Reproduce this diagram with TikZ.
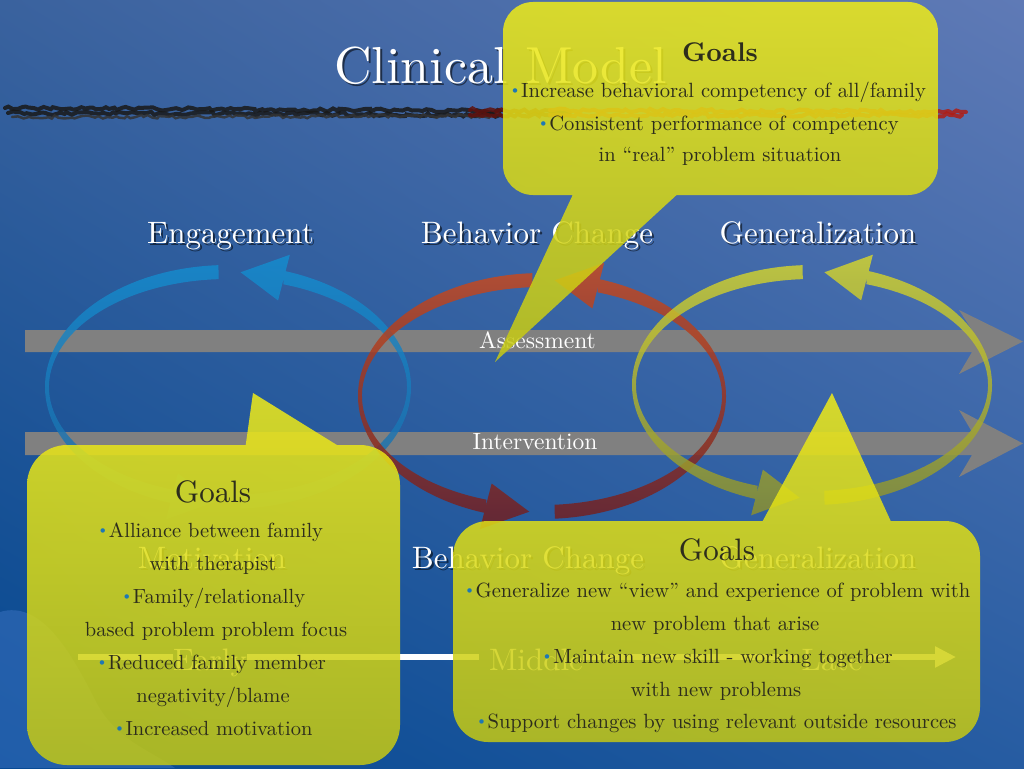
\documentclass[tikz,border=0pt]{standalone}
\usepackage{fontspec}
\setmainfont{lmroman10-regular}[Extension=.otf, BoldFont=lmroman10-bold, ItalicFont=lmroman10-italic]
\usepackage{graphicx}
\usetikzlibrary{arrows.meta,shadings,decorations.pathmorphing}
\definecolor{bgUL}{RGB}{58,98,158}
\definecolor{bgUR}{RGB}{95,122,182}
\definecolor{bgLL}{RGB}{4,72,145}
\definecolor{bgLR}{RGB}{38,92,162}
\definecolor{calTop}{RGB}{240,236,24}
\definecolor{calBot}{RGB}{196,200,20}
\definecolor{ctxt}{RGB}{45,45,28}
\definecolor{bblue}{RGB}{30,120,180}
\definecolor{barGray}{RGB}{128,128,128}
\definecolor{blueTop}{RGB}{20,142,208}
\definecolor{blueBot}{RGB}{30,105,165}
\definecolor{redTop}{RGB}{205,74,28}
\definecolor{redBot}{RGB}{112,28,30}
\definecolor{yelTop}{RGB}{215,215,45}
\definecolor{yelBot}{RGB}{140,145,45}
\definecolor{texBlue}{RGB}{60,115,195}
\definecolor{brushRed}{RGB}{175,30,22}
\newcommand{\bul}{{\color{bblue}\raisebox{0.1em}{\scalebox{0.75}{\textbullet}}}}
\newcommand{\stxt}[4]{%
  \node[lab, shd] (#1s) at (#2+2, #3+2) {#4};
  \node[lab] (#1) at (#2, #3) {#4};}
% #1 cx, #2 cy, #3 outer x radius, #4 outer y radius, #5 top colour, #6 bottom colour
\newcommand{\ringarrow}[6]{%
  \begin{scope}[shift={(#1,#2)}]
  \shade[ringfill, top color=#5, bottom color=#6]
    (86:#3 and #4) arc[start angle=86, end angle=-72, x radius=#3, y radius=#4]
    -- (-72:#3-4 and #4-14) arc[start angle=-72, end angle=86, x radius=#3-4, y radius=#4-14] -- cycle
    (-72:#3+17 and #4+17) -- (-86:#3-2 and #4-7) -- (-72:#3-21 and #4-31) -- cycle
    (267:#3 and #4) arc[start angle=267, end angle=108, x radius=#3, y radius=#4]
    -- (108:#3-4 and #4-14) arc[start angle=108, end angle=267, x radius=#3-4, y radius=#4-14] -- cycle
    (108:#3+17 and #4+17) -- (94:#3-2 and #4-7) -- (108:#3-21 and #4-31) -- cycle;
  \end{scope}}
\begin{document}
\begin{tikzpicture}[x=1pt,y=-1pt,
  lab/.style={text=white, font=\fontsize{31}{36}\selectfont, anchor=base, inner sep=0pt},
  shd/.style={text=black, text opacity=0.55},
  bartext/.style={text=white, font=\fontsize{23.5}{27}\selectfont, anchor=base, inner sep=0pt},
  ctext/.style={text=ctxt, font=\fontsize{20.6}{24}\selectfont, anchor=base, inner sep=0pt},
  goals/.style={text=ctxt, font=\fontsize{31}{36}\selectfont, anchor=base, inner sep=0pt},
  callout/.style={top color=calTop, bottom color=calBot, fill opacity=0.85},
  ringfill/.style={fill opacity=0.82},
  grayarrow/.style={fill=barGray},
  tl/.style={draw=white, line width=6pt},
  brush/.style={line width=4pt, decorate, decoration={random steps, segment length=4pt, amplitude=1.8pt}, line cap=round, opacity=0.85},
]
% background
\shade[upper left=bgUL, upper right=bgUR, lower left=bgLL, lower right=bgLR] (0,0) rectangle (1024,768);
\useasboundingbox (0,0) rectangle (1024,768);
\fill[texBlue, opacity=0.5] (0,612) .. controls (40,600) and (70,650) .. (95,700) .. controls (115,740) and (150,750) .. (175,768) -- (0,768) -- cycle;
% brush stroke
\draw[brush, black!90] (5,108) -- (500,111);
\draw[brush, black!90] (8,113) -- (500,115);
\draw[brush, black!80, line width=2.5pt] (12,117) -- (490,116);
\draw[brush, brushRed!55!black] (470,110) -- (570,112);
\draw[brush, brushRed!55!black] (470,115) -- (570,115);
\draw[brush, brushRed] (550,110) -- (966,112);
\draw[brush, brushRed] (550,115) -- (962,115);
% title
\node[lab, shd, font=\fontsize{52}{60}\selectfont] (titles) at (502.5,85) {Clinical Model};
\node[lab, font=\fontsize{52}{60}\selectfont] (title) at (500.5,83) {Clinical Model};
% gray arrows
\fill[grayarrow] (25,330) -- (972,330) -- (959,310) -- (1023,341.5) -- (959,374) -- (972,352) -- (25,352) -- cycle;
\fill[grayarrow] (25,432) -- (972,432) -- (959,410) -- (1023,443.5) -- (959,477) -- (972,455) -- (25,455) -- cycle;
\node[bartext] (assess) at (537.5,348) {Assessment};
\node[bartext] (interv) at (535,449) {Intervention};
% circular arrows
\ringarrow{228}{387}{183}{122}{blueTop}{blueBot}
\ringarrow{542}{396}{184}{123}{redTop}{redBot}
\ringarrow{812}{385}{180}{120}{yelTop}{yelBot}
% stage labels
\stxt{eng}{230.5}{243}{Engagement}
\stxt{bc}{537}{243}{Behavior Change}
\stxt{gen}{818}{243}{Generalization}
\stxt{mot}{212}{568}{Motivation}
\stxt{bcb}{528}{568}{Behavior Change}
\stxt{genb}{818}{568}{Generalization}
% timeline
\node[lab] (early) at (210,670) {Early};
\node[lab] (middle) at (536,670) {Middle};
\node[lab] (late) at (832,670) {Late};
\coordinate (tl0) at (78,657);
\coordinate (tl1) at (956,657);
\draw[tl] (tl0) -- (tl0 -| early.west);
\draw[tl] (tl0 -| early.east) -- ([xshift=-10pt]tl0 -| middle.west);
\draw[tl] (tl0 -| middle.east) -- ([xshift=-4pt]tl0 -| late.west);
\draw[tl, -{Triangle[length=21pt,width=20pt]}] ([xshift=4pt]tl0 -| late.east) -- (tl1);
% callouts
\shade[callout] [rounded corners=30pt] (503,2) -- (938,2) -- (938,195) -- (503,195) -- cycle
  [sharp corners] (575,190) -- (682,190) -- (495,362) -- cycle;
\shade[callout] [rounded corners=40pt] (27,445) -- (400,445) -- (400,765) -- (27,765) -- cycle
  [sharp corners] (345,450) -- (245,450) -- (253,393) -- cycle;
\shade[callout] [rounded corners=35pt] (453,521) -- (980,521) -- (980,742) -- (453,742) -- cycle
  [sharp corners] (893,526) -- (760,526) -- (832,393) -- cycle;
% callout texts
\node[ctext, font=\fontsize{27}{31}\selectfont\bfseries] (g1) at (720,61) {Goals};
\node[ctext] (g1a) at (717.5,97) {\bul Increase behavioral competency of all/family};
\node[ctext] (g1b) at (718,130) {\bul Consistent performance of competency};
\node[ctext] (g1c) at (720,161) {in “real” problem situation};
\node[goals] (g2) at (213,502) {Goals};
\node[ctext, font=\fontsize{20.5}{24}\selectfont] (g2a) at (210,537) {\bul Alliance between family};
\node[ctext, font=\fontsize{20.5}{24}\selectfont] (g2b) at (213,570) {with therapist};
\node[ctext, font=\fontsize{20.5}{24}\selectfont] (g2c) at (213,603) {\bul Family/relationally};
\node[ctext, font=\fontsize{20.5}{24}\selectfont] (g2d) at (216,636) {based problem problem focus};
\node[ctext, font=\fontsize{20.5}{24}\selectfont] (g2e) at (211,669) {\bul Reduced family member};
\node[ctext, font=\fontsize{20.5}{24}\selectfont] (g2f) at (213,702) {negativity/blame};
\node[ctext, font=\fontsize{20.5}{24}\selectfont] (g2g) at (213,735) {\bul Increased motivation};
\node[goals] (g3) at (717,560) {Goals};
\node[ctext] (g3a) at (717,597) {\bul Generalize new “view” and experience of problem with};
\node[ctext] (g3b) at (715,630) {new problem that arise};
\node[ctext] (g3c) at (717,663) {\bul Maintain new skill - working together};
\node[ctext] (g3d) at (716,696) {with new problems};
\node[ctext] (g3e) at (716,728) {\bul Support changes by using relevant outside resources};
\end{tikzpicture}
\end{document}
